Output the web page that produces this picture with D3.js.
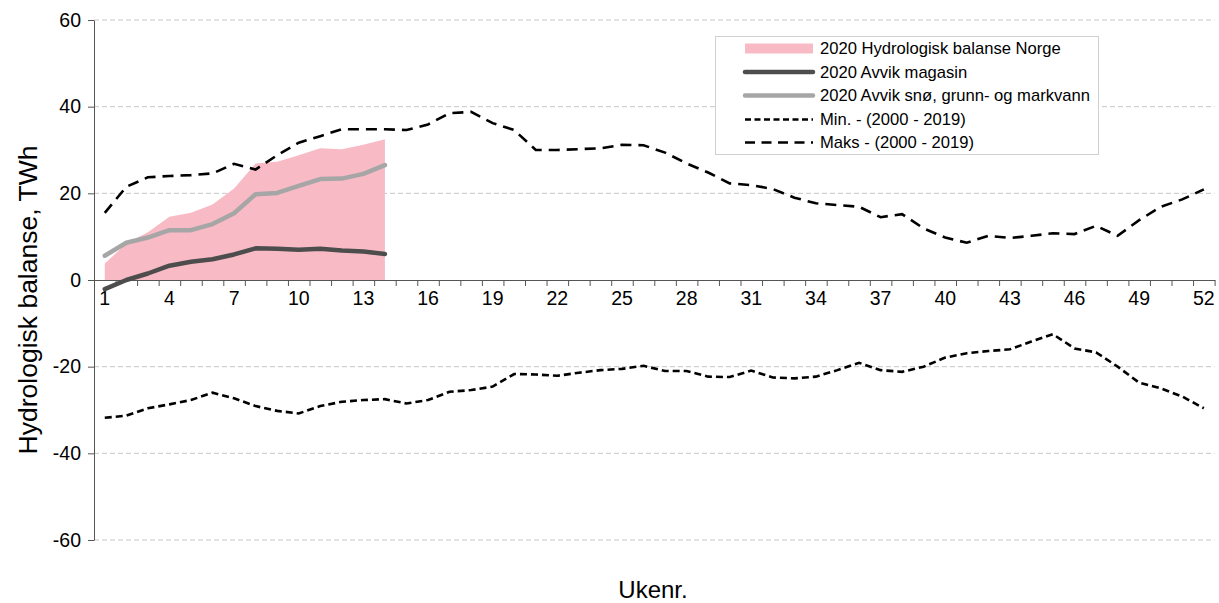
<!DOCTYPE html>
<html>
<head>
<meta charset="utf-8">
<script src="https://cdn.jsdelivr.net/npm/d3@7"></script>
<style>
  html, body { margin: 0; padding: 0; background: #fff; }
  svg { display: block; font-family: Arial, "Liberation Sans", sans-serif; }
</style>
</head>
<body>
<svg id="chart" width="1219" height="603"></svg>
<script>
// ---- data ----
const weeks = [1,2,3,4,5,6,7,8,9,10,11,12,13,14,15,16,17,18,19,20,21,22,23,24,25,26,
               27,28,29,30,31,32,33,34,35,36,37,38,39,40,41,42,43,44,45,46,47,48,49,50,51,52];
const xTickLabels = [1,4,7,10,13,16,19,22,25,28,31,34,37,40,43,46,49,52];
const yTickValues = [-60,-40,-20,0,20,40,60];

const weeks2020 = [1,2,3,4,5,6,7,8,9,10,11,12,13,14];
const balanse2020 = [3.8, 8.4, 11.0, 14.6, 15.5, 17.4, 21.1, 26.9, 27.3, 28.8, 30.4, 30.2, 31.2, 32.5];
const magasin2020 = [-2.1, 0.0, 1.5, 3.3, 4.2, 4.8, 5.9, 7.3, 7.2, 7.0, 7.2, 6.8, 6.6, 6.0];
const sno2020 = [5.6, 8.6, 9.8, 11.5, 11.5, 12.9, 15.4, 19.8, 20.1, 21.7, 23.3, 23.4, 24.5, 26.5];

const minVals = [-31.8, -31.3, -29.6, -28.7, -27.7, -26.0, -27.3, -29.1, -30.2, -30.8,
                 -29.1, -28.1, -27.7, -27.5, -28.5, -27.7, -25.8, -25.4, -24.6, -21.7,
                 -21.8, -22.1, -21.4, -20.8, -20.5, -19.8, -21.0, -21.0, -22.3, -22.4,
                 -20.9, -22.5, -22.7, -22.3, -20.8, -19.1, -20.8, -21.2, -20.0, -17.9,
                 -16.9, -16.4, -16.0, -14.2, -12.5, -15.8, -16.7, -20.0, -23.7, -25.0,
                 -26.9, -29.6];
const maxVals = [15.5, 21.5, 23.7, 24.0, 24.2, 24.6, 26.8, 25.5, 28.8, 31.7,
                 33.2, 34.8, 34.8, 34.8, 34.6, 35.9, 38.5, 38.8, 36.2, 34.6,
                 30.0, 30.0, 30.2, 30.4, 31.2, 31.1, 29.4, 26.9, 24.8, 22.3,
                 21.9, 21.0, 19.0, 17.7, 17.3, 16.9, 14.5, 15.2, 11.9, 9.8,
                 8.6, 10.2, 9.7, 10.2, 10.8, 10.6, 12.5, 10.2, 13.8, 16.9,
                 18.6, 20.9];

const legendLabels = [
  "2020 Hydrologisk balanse Norge",
  "2020 Avvik magasin",
  "2020 Avvik snø, grunn- og markvann",
  "Min. - (2000 - 2019)",
  "Maks - (2000 - 2019)"
];
const yTitle = "Hydrologisk balanse, TWh";
const xTitle = "Ukenr.";

// ---- layout ----
const plotLeft = 94, plotRight = 1214.6, plotTop = 20, plotBottom = 540;
const svg = d3.select("#chart");

const x = d3.scaleBand().domain(weeks).range([plotLeft, plotRight]).padding(0);
const xc = w => x(w) + x.bandwidth() / 2;
const xEdge = d3.scaleLinear().domain([0, weeks.length]).range([plotLeft, plotRight]);
const y = d3.scaleLinear().domain([-60, 60]).range([plotBottom, plotTop]);

// gridlines
svg.append("g")
  .selectAll("line")
  .data(yTickValues.filter(v => v !== 0))
  .join("line")
  .attr("x1", plotLeft).attr("x2", plotRight)
  .attr("y1", d => y(d)).attr("y2", d => y(d))
  .attr("stroke", "#c6c6c6").attr("stroke-width", 1)
  .attr("stroke-dasharray", "5,3");

// pink area
const area = d3.area()
  .x((d, i) => xc(weeks2020[i]))
  .y0(y(0))
  .y1(d => y(d));
svg.append("path")
  .datum(balanse2020)
  .attr("d", area)
  .attr("fill", "#f8bbc6");

// y axis
const yAxis = svg.append("g")
  .attr("transform", `translate(${plotLeft},0)`)
  .call(d3.axisLeft(y).tickValues(yTickValues).tickFormat(d => String(d))
        .tickSize(6).tickPadding(7).tickSizeOuter(0));
yAxis.select(".domain").attr("stroke", "#555");
yAxis.selectAll(".tick line").attr("stroke", "#555");
yAxis.selectAll("text").attr("font-size", 19.5).attr("fill", "#000")
  .attr("font-family", "Arial, 'Liberation Sans', sans-serif");

// x axis: boundary ticks
const xAxisTicks = svg.append("g")
  .attr("transform", `translate(0,${y(0)})`)
  .call(d3.axisBottom(xEdge).tickValues(d3.range(0, weeks.length + 1)).tickFormat("").tickSize(6).tickSizeOuter(0));
xAxisTicks.select(".domain").attr("stroke", "#555");
xAxisTicks.selectAll(".tick line").attr("stroke", "#555");

// x axis labels
const xAxisLabels = svg.append("g")
  .attr("transform", `translate(0,${y(0)})`)
  .call(d3.axisBottom(x).tickValues(xTickLabels).tickSize(0).tickPadding(11));
xAxisLabels.select(".domain").remove();
xAxisLabels.selectAll("text").attr("font-size", 19.5).attr("fill", "#000")
  .attr("font-family", "Arial, 'Liberation Sans', sans-serif");

// lines
const lineAll = d3.line().x((d, i) => xc(weeks[i])).y(d => y(d));
const line2020 = d3.line().x((d, i) => xc(weeks2020[i])).y(d => y(d));

svg.append("path").datum(minVals).attr("d", lineAll)
  .attr("fill", "none").attr("stroke", "#000").attr("stroke-width", 2.6)
  .attr("stroke-dasharray", "7,4");
svg.append("path").datum(maxVals).attr("d", lineAll)
  .attr("fill", "none").attr("stroke", "#000").attr("stroke-width", 2.6)
  .attr("stroke-dasharray", "11,7");
svg.append("path").datum(sno2020).attr("d", line2020)
  .attr("fill", "none").attr("stroke", "#a6a6a6").attr("stroke-width", 4.5)
  .attr("stroke-linejoin", "round").attr("stroke-linecap", "round");
svg.append("path").datum(magasin2020).attr("d", line2020)
  .attr("fill", "none").attr("stroke", "#4d4d4d").attr("stroke-width", 4.5)
  .attr("stroke-linejoin", "round").attr("stroke-linecap", "round");

// axis titles
svg.append("text")
  .attr("transform", `translate(37,300) rotate(-90)`)
  .attr("text-anchor", "middle")
  .attr("font-size", 26.5).attr("fill", "#000")
  .text(yTitle);
svg.append("text")
  .attr("x", 653).attr("y", 598)
  .attr("text-anchor", "middle")
  .attr("font-size", 24).attr("fill", "#000")
  .text(xTitle);

// legend
const lg = svg.append("g");
lg.append("rect")
  .attr("x", 715.5).attr("y", 36.5).attr("width", 383).attr("height", 118)
  .attr("fill", "#fff").attr("stroke", "#d0d0d0").attr("stroke-width", 1);
const rowY = [48.5, 72, 95.5, 119.5, 142.5];
const symX0 = 745, symX1 = 813;
lg.append("rect").attr("x", symX0).attr("y", rowY[0] - 5).attr("width", symX1 - symX0).attr("height", 10)
  .attr("fill", "#f8bbc6");
const legStyles = [
  null,
  {stroke: "#4d4d4d", w: 4.5, dash: null},
  {stroke: "#a6a6a6", w: 4.5, dash: null},
  {stroke: "#000", w: 2.6, dash: "6,3.5"},
  {stroke: "#000", w: 2.6, dash: "10,6.5"}
];
legStyles.forEach((s, i) => {
  if (!s) return;
  const l = lg.append("line")
    .attr("x1", symX0).attr("x2", symX1)
    .attr("y1", rowY[i]).attr("y2", rowY[i])
    .attr("stroke", s.stroke).attr("stroke-width", s.w);
  if (s.dash) l.attr("stroke-dasharray", s.dash);
  else l.attr("stroke-linecap", "round");
});
lg.selectAll("text.leg")
  .data(legendLabels)
  .join("text")
  .attr("class", "leg")
  .attr("x", 820)
  .attr("y", (d, i) => rowY[i])
  .attr("dy", "0.36em")
  .attr("font-size", 16.6).attr("fill", "#000")
  .text(d => d);
</script>
</body>
</html>
